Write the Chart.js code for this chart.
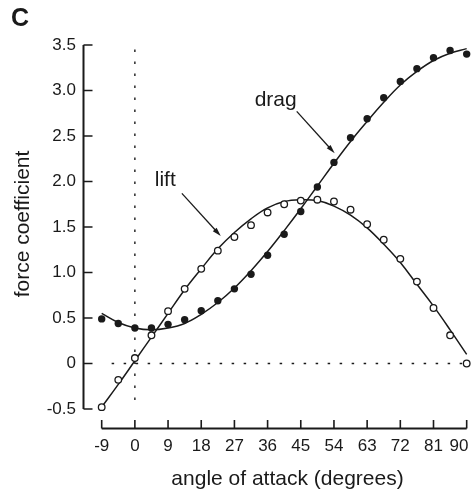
<!DOCTYPE html>
<html>
<head>
<meta charset="utf-8">
<script src="https://cdn.jsdelivr.net/npm/chart.js@4"></script>
<style>
  html, body { margin: 0; padding: 0; background: #fff; }
  #wrap { width: 473px; height: 493px; }
</style>
</head>
<body>
<div id="wrap"><canvas id="forceChart"></canvas></div>
<script>
// angle of attack (deg) for every measured point
const angles = [-9, -4.5, 0, 4.5, 9, 13.5, 18, 22.5, 27, 31.5, 36, 40.5, 45,
                49.5, 54, 58.5, 63, 67.5, 72, 76.5, 81, 85.5, 90];

// measured coefficients (open = lift, filled = drag)
const liftMeasured = [-0.48, -0.18, 0.06, 0.31, 0.575, 0.82, 1.04, 1.24, 1.39, 1.52, 1.66, 1.75,
                      1.79, 1.80, 1.78, 1.69, 1.53, 1.36, 1.15, 0.90, 0.61, 0.31, 0.00];
const dragMeasured = [0.49, 0.44, 0.39, 0.39, 0.43, 0.48, 0.58, 0.69, 0.82, 0.98, 1.19, 1.42,
                      1.67, 1.94, 2.21, 2.48, 2.69, 2.92, 3.10, 3.24, 3.36, 3.44, 3.40];

// fitted curves at the same angles
const liftFit = [-0.48, -0.23, 0.03, 0.29, 0.55, 0.81, 1.04, 1.26, 1.44, 1.59, 1.71, 1.78,
                 1.80, 1.79, 1.73, 1.63, 1.49, 1.31, 1.11, 0.87, 0.63, 0.37, 0.10];
const dragFit = [0.55, 0.45, 0.39, 0.37, 0.39, 0.44, 0.54, 0.67, 0.83, 1.02, 1.23, 1.46,
                 1.70, 1.95, 2.20, 2.44, 2.66, 2.87, 3.06, 3.21, 3.33, 3.41, 3.46];

const xTicks = [-9, 0, 9, 18, 27, 36, 45, 54, 63, 72, 81, 90];
const yTicks = [-0.5, 0, 0.5, 1.0, 1.5, 2.0, 2.5, 3.0, 3.5];
const yTickLabels = ['-0.5', '0', '0.5', '1.0', '1.5', '2.0', '2.5', '3.0', '3.5'];

const INK = '#1a1a1a';
const FONT = "'Liberation Sans', Arial, Helvetica, sans-serif";

function toPoints(ys) {
  return angles.map((a, i) => ({ x: a, y: ys[i] }));
}

// axes drawn offset from each other, with inward ticks, plus the dotted zero lines and labels
const figureDecor = {
  id: 'figureDecor',
  beforeDatasetsDraw(chart) {
    const { ctx, scales: { x, y } } = chart;
    ctx.save();
    ctx.strokeStyle = INK;
    ctx.lineWidth = 1.4;
    ctx.setLineDash([2.5, 9.5]);
    ctx.beginPath();
    ctx.moveTo(x.getPixelForValue(0), y.getPixelForValue(3.45));
    ctx.lineTo(x.getPixelForValue(0), y.getPixelForValue(-0.5));
    ctx.moveTo(x.getPixelForValue(-6.3), y.getPixelForValue(0));
    ctx.lineTo(x.getPixelForValue(90), y.getPixelForValue(0));
    ctx.stroke();
    ctx.restore();
  },
  afterDraw(chart) {
    const { ctx, chartArea, scales: { x, y } } = chart;
    ctx.save();
    ctx.strokeStyle = INK;
    ctx.fillStyle = INK;

    // y axis
    const ax = chartArea.left + 0.5;
    ctx.lineWidth = 2;
    ctx.beginPath();
    ctx.moveTo(ax, y.getPixelForValue(3.5));
    ctx.lineTo(ax, y.getPixelForValue(-0.5));
    ctx.stroke();
    ctx.lineWidth = 1.6;
    ctx.beginPath();
    yTicks.forEach(v => {
      const py = y.getPixelForValue(v);
      ctx.moveTo(ax, py);
      ctx.lineTo(ax + 9, py);
    });
    ctx.stroke();

    // x axis
    const ay = chartArea.bottom + 0.5;
    ctx.lineWidth = 2;
    ctx.beginPath();
    ctx.moveTo(x.getPixelForValue(-9), ay);
    ctx.lineTo(x.getPixelForValue(90), ay);
    ctx.stroke();
    ctx.lineWidth = 1.6;
    ctx.beginPath();
    xTicks.forEach(v => {
      const px = x.getPixelForValue(v);
      ctx.moveTo(px, ay);
      ctx.lineTo(px, ay - 8.5);
    });
    ctx.stroke();

    // x tick labels, last one kept inside the canvas
    ctx.font = '17px ' + FONT;
    ctx.textAlign = 'center';
    ctx.textBaseline = 'middle';
    xTicks.forEach(v => {
      const label = String(v);
      const w = ctx.measureText(label).width;
      const px = Math.min(x.getPixelForValue(v), chart.width - 4.5 - w / 2);
      ctx.fillText(label, px, 446);
    });

    // axis titles
    ctx.font = '21px ' + FONT;
    ctx.textBaseline = 'alphabetic';
    ctx.fillText('angle of attack (degrees)', 287.5, 485);
    ctx.save();
    ctx.translate(23, 224);
    ctx.rotate(-Math.PI / 2);
    ctx.textBaseline = 'middle';
    ctx.fillText('force coefficient', 0, 0);
    ctx.restore();

    // panel letter
    ctx.font = 'bold 25px ' + FONT;
    ctx.textAlign = 'left';
    ctx.textBaseline = 'alphabetic';
    ctx.fillText('C', 11, 26);

    // curve labels with arrows
    ctx.font = '21px ' + FONT;
    ctx.fillText('drag', x.getPixelForValue(32.5), y.getPixelForValue(2.83));
    ctx.fillText('lift', x.getPixelForValue(5.4), y.getPixelForValue(1.95));
    arrow(ctx, x.getPixelForValue(43.9), y.getPixelForValue(2.77),
               x.getPixelForValue(54.2), y.getPixelForValue(2.31));
    arrow(ctx, x.getPixelForValue(12.75), y.getPixelForValue(1.87),
               x.getPixelForValue(23.3), y.getPixelForValue(1.40));
    ctx.restore();
  }
};

function arrow(ctx, x0, y0, x1, y1) {
  const ang = Math.atan2(y1 - y0, x1 - x0);
  const len = 9, half = 2.6;
  ctx.lineWidth = 1.3;
  ctx.beginPath();
  ctx.moveTo(x0, y0);
  ctx.lineTo(x1 - Math.cos(ang) * len * 0.8, y1 - Math.sin(ang) * len * 0.8);
  ctx.stroke();
  ctx.beginPath();
  ctx.moveTo(x1, y1);
  ctx.lineTo(x1 - Math.cos(ang) * len - Math.sin(ang) * half, y1 - Math.sin(ang) * len + Math.cos(ang) * half);
  ctx.lineTo(x1 - Math.cos(ang) * len + Math.sin(ang) * half, y1 - Math.sin(ang) * len - Math.cos(ang) * half);
  ctx.closePath();
  ctx.fill();
}

document.addEventListener('DOMContentLoaded', () => {
  const ctx = document.getElementById('forceChart');
  Chart.defaults.font.family = FONT;
  Chart.defaults.color = INK;

  new Chart(ctx, {
    type: 'scatter',
    data: {
      datasets: [
        {
          label: 'lift',
          data: toPoints(liftMeasured),
          pointRadius: 3.3,
          pointBackgroundColor: '#fff',
          pointBorderColor: INK,
          pointBorderWidth: 1.3,
          clip: false,
          order: 0
        },
        {
          label: 'drag',
          data: toPoints(dragMeasured),
          pointRadius: 3.7,
          pointBackgroundColor: INK,
          pointBorderColor: INK,
          pointBorderWidth: 0,
          clip: false,
          order: 0
        },
        {
          label: 'lift fit',
          data: toPoints(liftFit),
          showLine: true,
          pointRadius: 0,
          borderColor: INK,
          borderWidth: 1.5,
          tension: 0.4,
          clip: false,
          order: 1
        },
        {
          label: 'drag fit',
          data: toPoints(dragFit),
          showLine: true,
          pointRadius: 0,
          borderColor: INK,
          borderWidth: 1.5,
          tension: 0.4,
          clip: false,
          order: 1
        }
      ]
    },
    options: {
      responsive: true,
      maintainAspectRatio: false,
      animation: false,
      events: [],
      layout: { autoPadding: false, padding: { top: 40, right: 3, left: 0, bottom: 0 } },
      plugins: { legend: { display: false }, tooltip: { enabled: false } },
      scales: {
        x: {
          type: 'linear',
          min: -14.07,
          max: 90.9,
          afterFit: s => { s.height = 65; s.paddingLeft = 0; s.paddingRight = 0; },
          afterBuildTicks: s => { s.ticks = xTicks.map(v => ({ value: v })); },
          grid: { display: false, drawTicks: false },
          border: { display: false },
          ticks: { display: false }
        },
        y: {
          type: 'linear',
          min: -0.709,
          max: 3.555,
          afterFit: s => { s.width = 83; s.paddingTop = 0; s.paddingBottom = 0; },
          afterBuildTicks: s => { s.ticks = yTicks.map(v => ({ value: v })); },
          grid: { display: false, drawTicks: false },
          border: { display: false },
          ticks: {
            padding: 7,
            font: { size: 17 },
            color: INK,
            autoSkip: false,
            callback: (v, i) => yTickLabels[i]
          }
        }
      }
    },
    plugins: [figureDecor]
  });
});
</script>
</body>
</html>
